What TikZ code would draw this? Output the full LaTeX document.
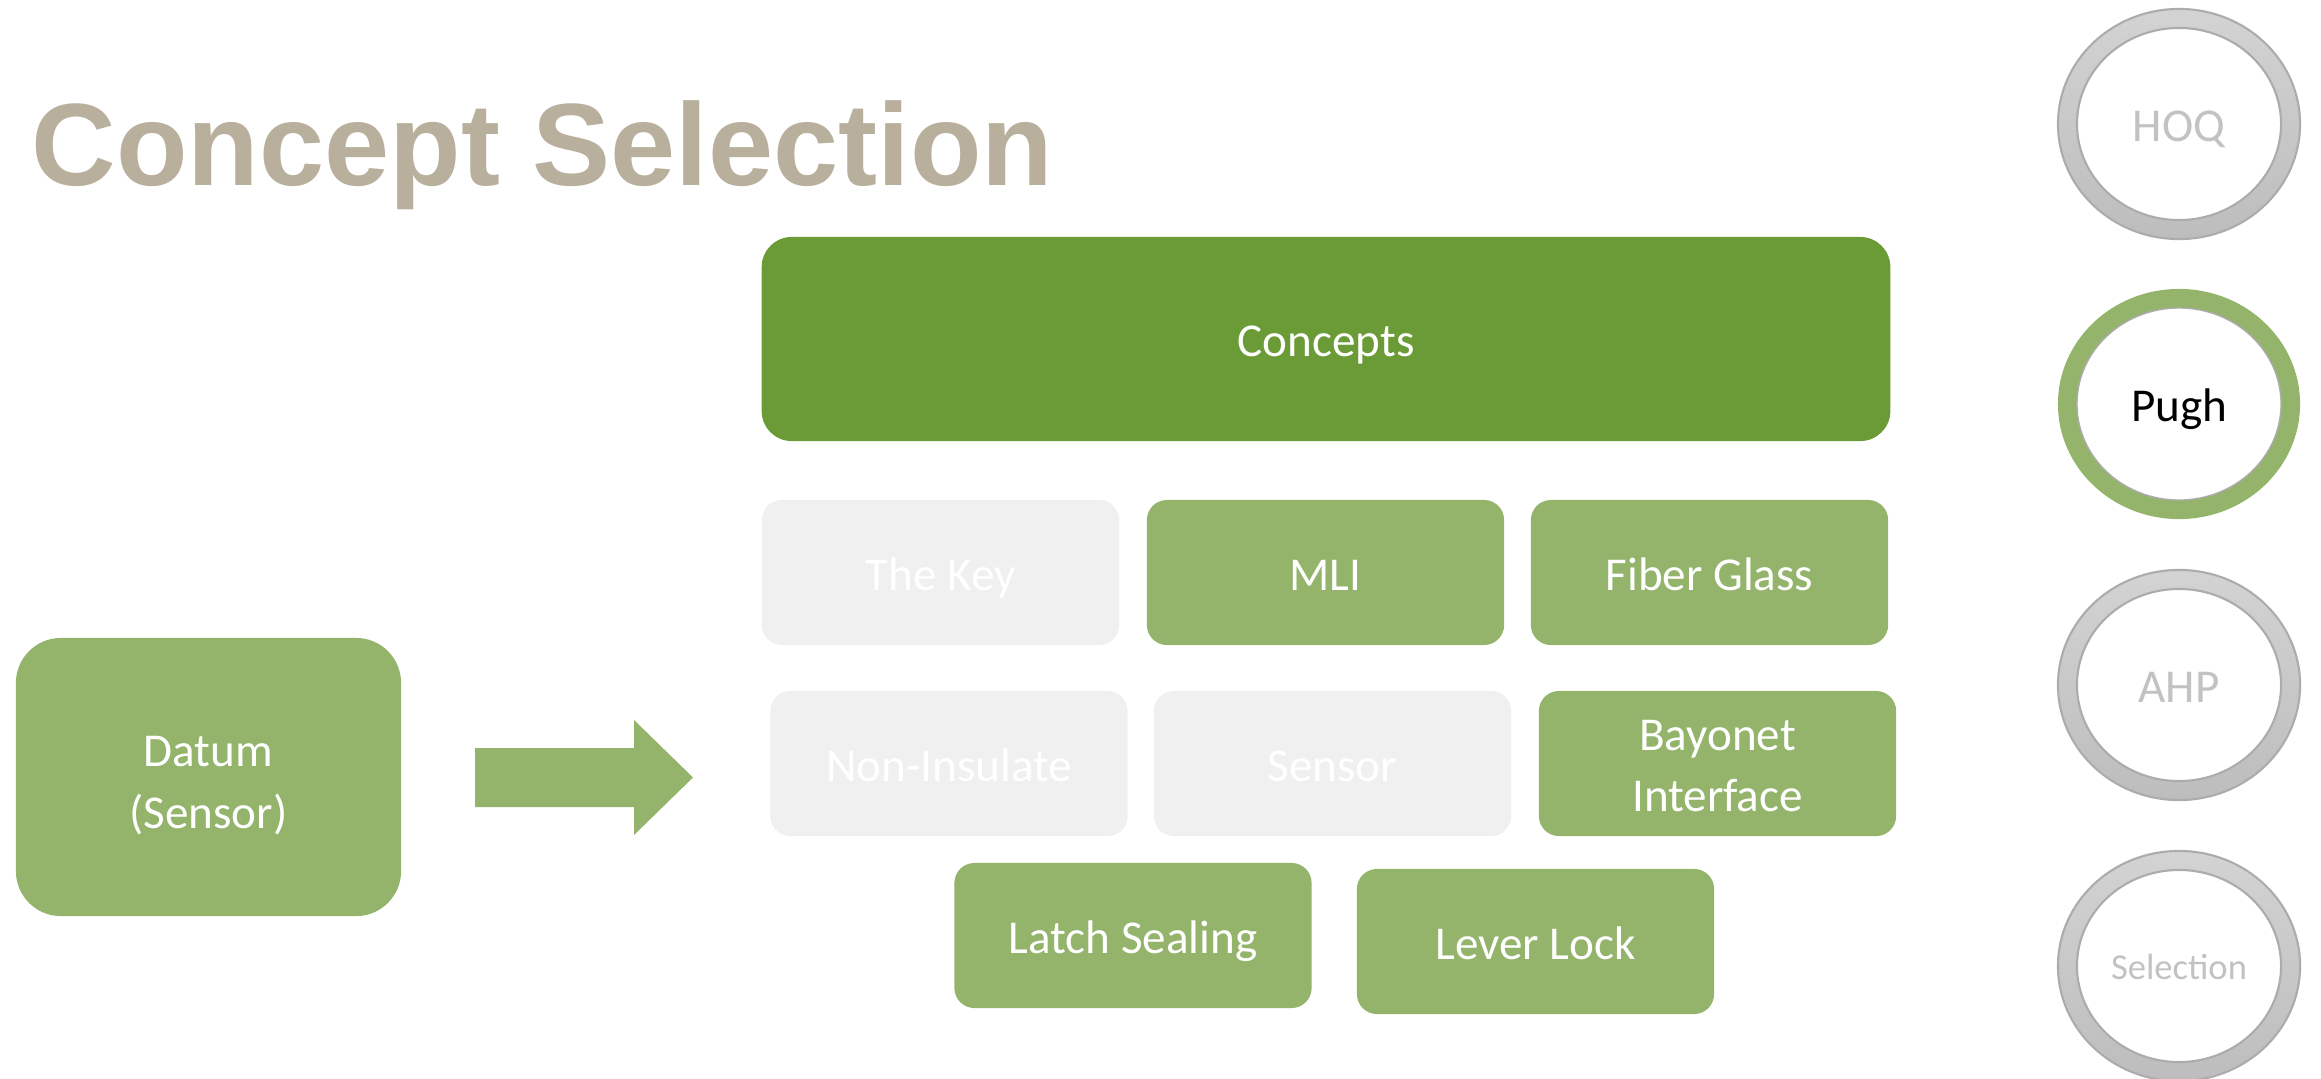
\documentclass[tikz,border=0pt]{standalone}
\usepackage{fontspec}
\setmainfont{Carlito}
\newfontfamily\titlefont{Liberation Sans}
\definecolor{titlegray}{HTML}{B8B09C}
\definecolor{darkgreen}{HTML}{6B9B37}
\definecolor{lightgreen}{HTML}{93B46A}
\definecolor{boxgray}{HTML}{F0F0F0}
\definecolor{ringtop}{HTML}{D3D3D3}
\definecolor{ringbot}{HTML}{BDBDBD}
\definecolor{ringline}{HTML}{ACACAC}
\definecolor{labelgray}{HTML}{C2C2C2}
\begin{document}
\begin{tikzpicture}[x=0.01cm, y=-0.01cm,
  txt/.style={font=\fontsize{13.4}{17.4}\selectfont, align=center,
    text height=13.4pt, text depth=3.4pt},
  concept/.style={txt, fill=lightgreen, text=white, rounded corners=0.2cm,
    minimum width=3.57cm, minimum height=1.45cm, inner sep=0pt},
  dropped/.style={concept, fill=boxgray},
  ringlabel/.style={txt, text=labelgray}]
\useasboundingbox (0,0) rectangle (2321,1078);
\fill[white] (0,0) rectangle (2321,1078);

\node[anchor=base west, text=titlegray, inner sep=0pt,
  font=\titlefont\fontsize{33.3}{40}\selectfont\bfseries] (title) at (31,185) {Concept Selection};

\node[concept, fill=darkgreen, rounded corners=0.3cm, minimum width=11.28cm, minimum height=2.04cm] (concepts) at (1326,339) {Concepts};

\node[dropped] (key) at (940.5,572.5) {The Key};
\node[concept] (mli) at (1325.5,572.5) {MLI};
\node[concept] (fiber) at (1709.5,572.5) {Fiber Glass};
\node[dropped] (noninsulate) at (949,763.5) {Non-Insulate};
\node[dropped] (sensor) at (1332.5,763.5) {Sensor};
\node[concept, text height=27.3pt, text depth=0pt] (bayonet) at (1717.5,763.5) {Bayonet\\Interface};
\node[concept] (latch) at (1133,935.5) {Latch Sealing};
\node[concept] (lever) at (1535.5,941.5) {Lever Lock};

\node[concept, rounded corners=0.45cm, minimum width=3.85cm, minimum height=2.78cm,
  text height=32.4pt, text depth=3.4pt] (datum) at (208.5,777) {Datum\\(Sensor)};

\fill[lightgreen] (475,748) -- (634,748) -- (634,720) -- (693,777.5) -- (634,835) -- (634,807) -- (475,807) -- cycle;

\foreach \y/\n in {124/hoq, 685/ahp, 966/sel} {
  \shade[even odd rule, top color=ringtop, bottom color=ringbot]
    (2179,\y) ellipse [x radius=1.21cm, y radius=1.15cm]
    (2179,\y) ellipse [x radius=1.02cm, y radius=0.96cm];
  \draw[ringline, line width=0.6pt] (2179,\y) ellipse [x radius=1.21cm, y radius=1.15cm];
  \draw[ringline, line width=0.6pt] (2179,\y) ellipse [x radius=1.02cm, y radius=0.96cm];
  \coordinate (\n) at (2179,\y);
}
\fill[even odd rule, lightgreen]
  (2179,404) ellipse [x radius=1.21cm, y radius=1.15cm]
  (2179,404) ellipse [x radius=1.02cm, y radius=0.96cm];
\draw[ringline, line width=0.4pt] (2179,404) ellipse [x radius=1.02cm, y radius=0.96cm];

\node[ringlabel] (hoqlabel) at (hoq) {HOQ};
\node[txt] (pugh) at (2179,404) {Pugh};
\node[ringlabel] (ahplabel) at (ahp) {AHP};
\node[ringlabel, font=\fontsize{10.4}{12}\selectfont, text height=10.4pt, text depth=2.6pt] (sellabel) at (sel) {Selection};
\end{tikzpicture}
\end{document}
